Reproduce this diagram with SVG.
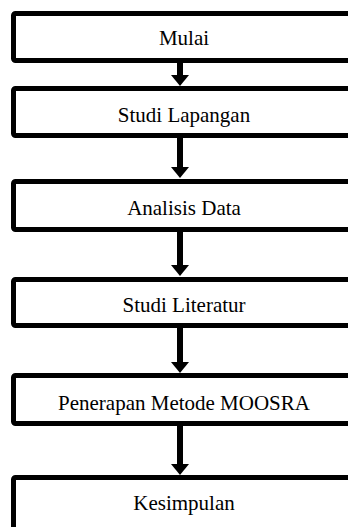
<svg xmlns="http://www.w3.org/2000/svg" width="348" height="527" viewBox="0 0 348 527">
  <style>
    .box { fill: #ffffff; stroke: #000000; stroke-width: 5; }
    .lbl { font-family: "Liberation Serif", "Times New Roman", serif; font-size: 21px; fill: #000000; text-anchor: middle; }
    .conn { stroke: #000000; stroke-width: 6; fill: none; }
  </style>
  <defs>
    <marker id="ah" markerUnits="userSpaceOnUse" markerWidth="11" markerHeight="18" refX="0" refY="9" orient="auto" overflow="visible">
      <path d="M0,0 L11,9 L0,18 z" fill="#000000"/>
    </marker>
  </defs>
  <rect width="348" height="527" fill="#ffffff"/>
  <g id="connectors">
    <line class="conn" x1="180" y1="62" x2="180" y2="75" marker-end="url(#ah)"/>
    <line class="conn" x1="180" y1="137" x2="180" y2="167" marker-end="url(#ah)"/>
    <line class="conn" x1="180" y1="231" x2="180" y2="265" marker-end="url(#ah)"/>
    <line class="conn" x1="180" y1="327" x2="180" y2="362" marker-end="url(#ah)"/>
    <line class="conn" x1="180" y1="425" x2="180" y2="464" marker-end="url(#ah)"/>
  </g>
  <g id="mulai">
    <rect class="box" x="13.5" y="13.5" width="339" height="47" rx="2"/>
    <text class="lbl" x="184" y="45">Mulai</text>
  </g>
  <g id="studi-lapangan">
    <rect class="box" x="13.5" y="88.5" width="339" height="47" rx="2"/>
    <text class="lbl" x="184" y="122">Studi Lapangan</text>
  </g>
  <g id="analisis-data">
    <rect class="box" x="13.5" y="181.5" width="339" height="48" rx="2"/>
    <text class="lbl" x="184" y="215">Analisis Data</text>
  </g>
  <g id="studi-literatur">
    <rect class="box" x="13.5" y="279.5" width="339" height="46" rx="2"/>
    <text class="lbl" x="184" y="312">Studi Literatur</text>
  </g>
  <g id="penerapan">
    <rect class="box" x="13.5" y="375.5" width="339" height="48" rx="2"/>
    <text class="lbl" x="184" y="410">Penerapan Metode MOOSRA</text>
  </g>
  <g id="kesimpulan">
    <rect class="box" x="13.5" y="477.5" width="339" height="70" rx="2"/>
    <text class="lbl" x="184" y="510">Kesimpulan</text>
  </g>
</svg>
